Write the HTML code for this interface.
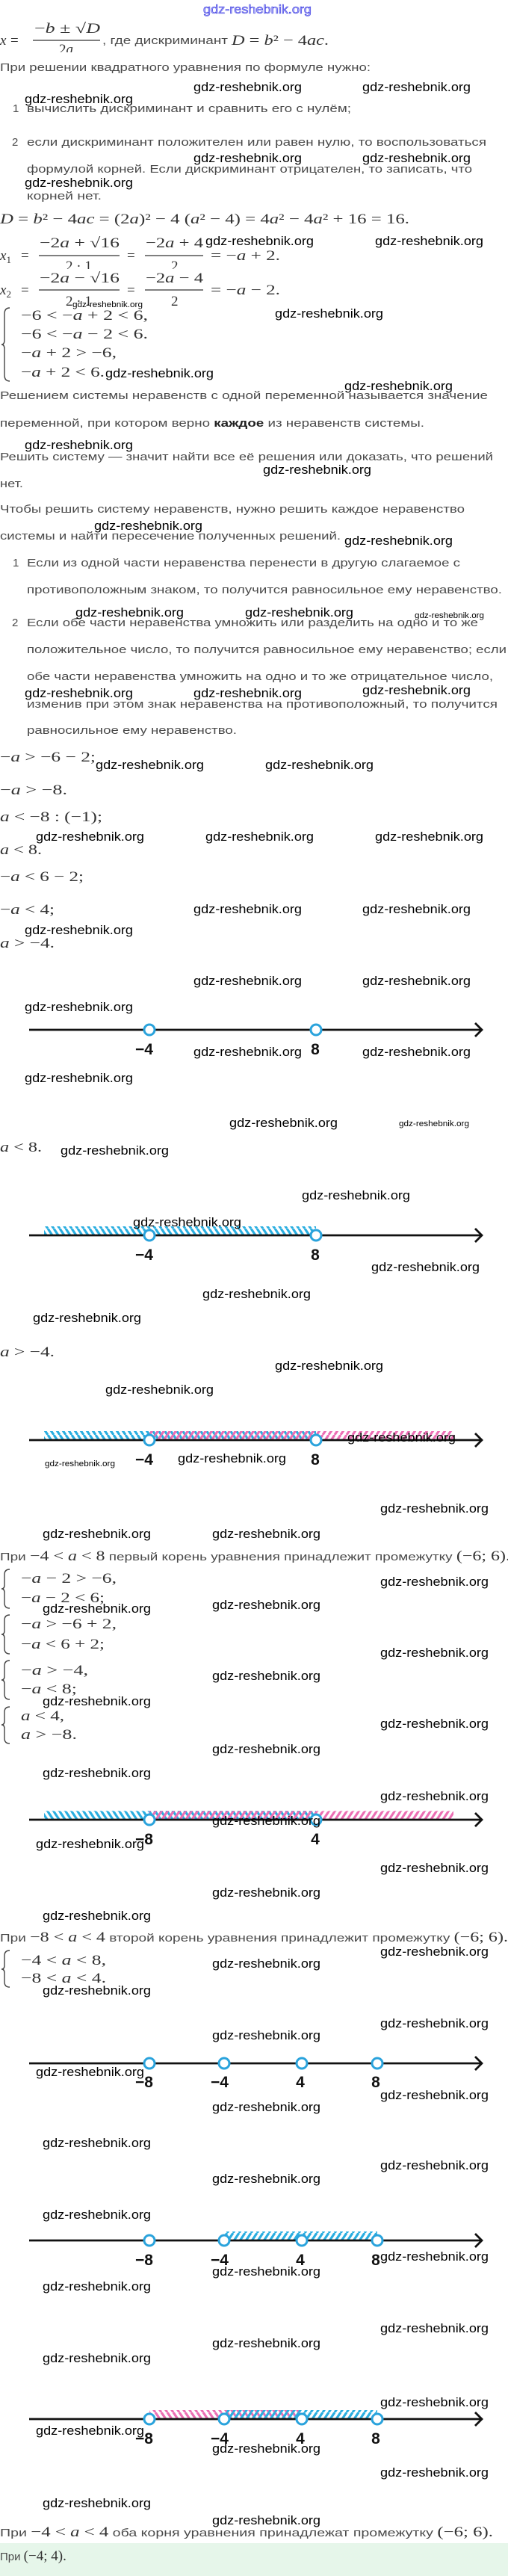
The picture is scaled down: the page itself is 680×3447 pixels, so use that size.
<!DOCTYPE html>
<html><head><meta charset="utf-8">
<style>
html,body{margin:0;padding:0;background:#fff;}
svg{display:block;}
.t{font-family:"Liberation Sans",sans-serif;font-size:15px;fill:#4a4a4a;}
.m{font-family:"Liberation Serif",serif;font-size:19px;fill:#333;}
.mi{font-family:"Liberation Serif",serif;font-size:19px;fill:#333;font-style:italic;}
.w{font-family:"Liberation Sans",sans-serif;font-size:17px;fill:#000;}
.ws{font-family:"Liberation Sans",sans-serif;font-size:11px;fill:#000;}
.n{font-family:"Liberation Sans",sans-serif;font-size:21px;font-weight:bold;fill:#111;}
.ax{stroke:#111;stroke-width:2.8;fill:none;}
.c{stroke:#2aa3dc;stroke-width:3;fill:#fff;}
.br{stroke:#444;stroke-width:1.4;fill:none;}
.fb{stroke:#333;stroke-width:1.2;}
</style></head><body>
<svg width="680" height="3447" viewBox="0 0 680 3447" xmlns="http://www.w3.org/2000/svg">
<defs>
<pattern id="pb" patternUnits="userSpaceOnUse" width="8" height="12"><line x1="0" y1="0" x2="8" y2="12" stroke="#2aaee0" stroke-width="3.2"/><line x1="-8" y1="0" x2="0" y2="12" stroke="#2aaee0" stroke-width="3.2"/><line x1="8" y1="0" x2="16" y2="12" stroke="#2aaee0" stroke-width="3.2"/></pattern>
<pattern id="pf" patternUnits="userSpaceOnUse" width="8" height="12"><line x1="8" y1="0" x2="0" y2="12" stroke="#2aaee0" stroke-width="3.2"/><line x1="16" y1="0" x2="8" y2="12" stroke="#2aaee0" stroke-width="3.2"/><line x1="0" y1="0" x2="-8" y2="12" stroke="#2aaee0" stroke-width="3.2"/></pattern>
<pattern id="kf" patternUnits="userSpaceOnUse" width="8" height="12"><line x1="8" y1="0" x2="0" y2="12" stroke="#ec6fb4" stroke-width="3.2"/><line x1="16" y1="0" x2="8" y2="12" stroke="#ec6fb4" stroke-width="3.2"/><line x1="0" y1="0" x2="-8" y2="12" stroke="#ec6fb4" stroke-width="3.2"/></pattern>
<pattern id="kb" patternUnits="userSpaceOnUse" width="8" height="12"><line x1="0" y1="0" x2="8" y2="12" stroke="#ec6fb4" stroke-width="3.2"/><line x1="-8" y1="0" x2="0" y2="12" stroke="#ec6fb4" stroke-width="3.2"/><line x1="8" y1="0" x2="16" y2="12" stroke="#ec6fb4" stroke-width="3.2"/></pattern>
</defs>

<text x="272" y="18" font-family="Liberation Sans,sans-serif" font-size="17" fill="#b8b8ff" stroke="#3333dd" stroke-width="0.6" textLength="145" lengthAdjust="spacingAndGlyphs">gdz-reshebnik.org</text>

<text class="mi" x="0" y="60">x</text><text class="m" x="14" y="60">=</text>
<text class="m" x="46" y="44" textLength="88" lengthAdjust="spacingAndGlyphs">−<tspan font-style="italic">b</tspan> ± √<tspan font-style="italic">D</tspan></text>
<line class="fb" x1="44" y1="54" x2="134" y2="54"/>
<text class="m" x="79" y="72">2<tspan font-style="italic">a</tspan></text>
<rect x="70" y="70" width="70" height="8" fill="#fff"/>
<text class="t" x="137" y="59" textLength="168" lengthAdjust="spacingAndGlyphs">, где дискриминант</text>
<text class="m" x="310" y="60" textLength="130" lengthAdjust="spacingAndGlyphs"><tspan font-style="italic">D</tspan> = <tspan font-style="italic">b</tspan>² − 4<tspan font-style="italic">ac</tspan>.</text>

<text class="t" x="0" y="95" textLength="496" lengthAdjust="spacingAndGlyphs">При решении квадратного уравнения по формуле нужно:</text>
<text class="t" x="17" y="150" fill="#999">1</text>
<text class="t" x="36" y="150" textLength="434" lengthAdjust="spacingAndGlyphs">вычислить дискриминант и сравнить его с нулём;</text>
<text class="t" x="16" y="195" fill="#999">2</text>
<text class="t" x="36" y="195" textLength="615" lengthAdjust="spacingAndGlyphs">если дискриминант положителен или равен нулю, то воспользоваться</text>
<text class="t" x="36" y="231" textLength="596" lengthAdjust="spacingAndGlyphs">формулой корней. Если дискриминант отрицателен, то записать, что</text>
<text class="t" x="36" y="267" textLength="100" lengthAdjust="spacingAndGlyphs">корней нет.</text>

<text class="m" x="0" y="299" textLength="548" lengthAdjust="spacingAndGlyphs"><tspan font-style="italic">D</tspan> = <tspan font-style="italic">b</tspan>² − 4<tspan font-style="italic">ac</tspan> = (2<tspan font-style="italic">a</tspan>)² − 4 (<tspan font-style="italic">a</tspan>² − 4) = 4<tspan font-style="italic">a</tspan>² − 4<tspan font-style="italic">a</tspan>² + 16 = 16.</text>

<text class="mi" x="0" y="348">x<tspan font-size="13" font-style="normal" dy="4">1</tspan></text><text class="m" x="28" y="348">=</text>
<text class="m" x="53" y="331" textLength="107" lengthAdjust="spacingAndGlyphs">−2<tspan font-style="italic">a</tspan> + √16</text>
<line class="fb" x1="52" y1="342" x2="160" y2="342"/>
<text class="m" x="88" y="362">2 · 1</text>
<text class="m" x="170" y="348">=</text>
<text class="m" x="195" y="331" textLength="77" lengthAdjust="spacingAndGlyphs">−2<tspan font-style="italic">a</tspan> + 4</text>
<line class="fb" x1="194" y1="342" x2="272" y2="342"/>
<text class="m" x="229" y="362">2</text>
<text class="m" x="282" y="348" textLength="93" lengthAdjust="spacingAndGlyphs">= −<tspan font-style="italic">a</tspan> + 2.</text>
<rect x="40" y="360" width="250" height="6" fill="#fff"/>
<text class="mi" x="0" y="394">x<tspan font-size="13" font-style="normal" dy="4">2</tspan></text><text class="m" x="28" y="394">=</text>
<text class="m" x="53" y="378" textLength="107" lengthAdjust="spacingAndGlyphs">−2<tspan font-style="italic">a</tspan> − √16</text>
<line class="fb" x1="52" y1="388" x2="160" y2="388"/>
<text class="m" x="88" y="409">2 · 1</text>
<text class="m" x="170" y="394">=</text>
<text class="m" x="195" y="378" textLength="77" lengthAdjust="spacingAndGlyphs">−2<tspan font-style="italic">a</tspan> − 4</text>
<line class="fb" x1="194" y1="388" x2="272" y2="388"/>
<text class="m" x="229" y="409">2</text>
<text class="m" x="282" y="394" textLength="93" lengthAdjust="spacingAndGlyphs">= −<tspan font-style="italic">a</tspan> − 2.</text>

<path class="br" d="M13,412 Q6,412 6,420 L6,455 Q6,461 2,461 Q6,461 6,467 L6,502 Q6,510 13,510"/>
<text class="m" x="28" y="428" textLength="170" lengthAdjust="spacingAndGlyphs">−6 &lt; −<tspan font-style="italic">a</tspan> + 2 &lt; 6,</text>
<text class="m" x="28" y="453" textLength="170" lengthAdjust="spacingAndGlyphs">−6 &lt; −<tspan font-style="italic">a</tspan> − 2 &lt; 6.</text>
<text class="m" x="28" y="478" textLength="128" lengthAdjust="spacingAndGlyphs">−<tspan font-style="italic">a</tspan> + 2 &gt; −6,</text>
<text class="m" x="28" y="504" textLength="112" lengthAdjust="spacingAndGlyphs">−<tspan font-style="italic">a</tspan> + 2 &lt; 6.</text>

<text class="t" x="0" y="534" textLength="653" lengthAdjust="spacingAndGlyphs">Решением системы неравенств с одной переменной называется значение</text>
<text class="t" x="0" y="571" textLength="568" lengthAdjust="spacingAndGlyphs">переменной, при котором верно <tspan font-weight="bold" fill="#222">каждое</tspan> из неравенств системы.</text>
<text class="t" x="0" y="616" textLength="660" lengthAdjust="spacingAndGlyphs">Решить систему — значит найти все её решения или доказать, что решений</text>
<text class="t" x="0" y="652" textLength="31" lengthAdjust="spacingAndGlyphs">нет.</text>
<text class="t" x="0" y="686" textLength="622" lengthAdjust="spacingAndGlyphs">Чтобы решить систему неравенств, нужно решить каждое неравенство</text>
<text class="t" x="0" y="722" textLength="456" lengthAdjust="spacingAndGlyphs">системы и найти пересечение полученных решений.</text>
<text class="t" x="17" y="758" fill="#999">1</text>
<text class="t" x="36" y="758" textLength="580" lengthAdjust="spacingAndGlyphs">Если из одной части неравенства перенести в другую слагаемое с</text>
<text class="t" x="36" y="794" textLength="636" lengthAdjust="spacingAndGlyphs">противоположным знаком, то получится равносильное ему неравенство.</text>
<text class="t" x="16" y="838" fill="#999">2</text>
<text class="t" x="36" y="838" textLength="604" lengthAdjust="spacingAndGlyphs">Если обе части неравенства умножить или разделить на одно и то же</text>
<text class="t" x="36" y="874" textLength="642" lengthAdjust="spacingAndGlyphs">положительное число, то получится равносильное ему неравенство; если</text>
<text class="t" x="36" y="910" textLength="624" lengthAdjust="spacingAndGlyphs">обе части неравенства умножить на одно и то же отрицательное число,</text>
<text class="t" x="36" y="947" textLength="630" lengthAdjust="spacingAndGlyphs">изменив при этом знак неравенства на противоположный, то получится</text>
<text class="t" x="36" y="982" textLength="281" lengthAdjust="spacingAndGlyphs">равносильное ему неравенство.</text>

<text class="m" x="0" y="1019" textLength="128" lengthAdjust="spacingAndGlyphs">−<tspan font-style="italic">a</tspan> &gt; −6 − 2;</text>
<text class="m" x="0" y="1063" textLength="90" lengthAdjust="spacingAndGlyphs">−<tspan font-style="italic">a</tspan> &gt; −8.</text>
<text class="m" x="0" y="1099" textLength="137" lengthAdjust="spacingAndGlyphs"><tspan font-style="italic">a</tspan> &lt; −8 : (−1);</text>
<text class="m" x="0" y="1143" textLength="56" lengthAdjust="spacingAndGlyphs"><tspan font-style="italic">a</tspan> &lt; 8.</text>
<text class="m" x="0" y="1179" textLength="112" lengthAdjust="spacingAndGlyphs">−<tspan font-style="italic">a</tspan> &lt; 6 − 2;</text>
<text class="m" x="0" y="1223" textLength="73" lengthAdjust="spacingAndGlyphs">−<tspan font-style="italic">a</tspan> &lt; 4;</text>
<text class="m" x="0" y="1268" textLength="73" lengthAdjust="spacingAndGlyphs"><tspan font-style="italic">a</tspan> &gt; −4.</text>

<line class="ax" x1="39" y1="1378" x2="645" y2="1378"/><polyline class="ax" points="636,1369 645,1378 636,1387"/>
<circle class="c" cx="200" cy="1378" r="7"/><circle class="c" cx="423" cy="1378" r="7"/>
<text class="n" x="193" y="1411" text-anchor="middle">−4</text><text class="n" x="422" y="1411" text-anchor="middle">8</text>

<text class="m" x="0" y="1541" textLength="56" lengthAdjust="spacingAndGlyphs"><tspan font-style="italic">a</tspan> &lt; 8.</text>
<rect x="59" y="1641" width="364" height="12" fill="url(#pb)"/>
<line class="ax" x1="39" y1="1653" x2="645" y2="1653"/><polyline class="ax" points="636,1644 645,1653 636,1662"/>
<circle class="c" cx="200" cy="1653" r="7"/><circle class="c" cx="423" cy="1653" r="7"/>
<text class="n" x="193" y="1686" text-anchor="middle">−4</text><text class="n" x="422" y="1686" text-anchor="middle">8</text>

<text class="m" x="0" y="1815" textLength="73" lengthAdjust="spacingAndGlyphs"><tspan font-style="italic">a</tspan> &gt; −4.</text>
<rect x="59" y="1915" width="364" height="12" fill="url(#pb)"/>
<rect x="200" y="1915" width="407" height="12" fill="url(#kf)"/>
<line class="ax" x1="39" y1="1927" x2="645" y2="1927"/><polyline class="ax" points="636,1918 645,1927 636,1936"/>
<circle class="c" cx="200" cy="1927" r="7"/><circle class="c" cx="423" cy="1927" r="7"/>
<text class="n" x="193" y="1960" text-anchor="middle">−4</text><text class="n" x="422" y="1960" text-anchor="middle">8</text>

<text class="t" x="0" y="2088" textLength="683" lengthAdjust="spacingAndGlyphs">При <tspan class="m">−4 &lt; <tspan font-style="italic">a</tspan> &lt; 8</tspan> первый корень уравнения принадлежит промежутку <tspan class="m">(−6; 6).</tspan></text>
<path class="br" d="M13,2100 Q6,2100 6,2107 L6,2121 Q6,2126 2,2126 Q6,2126 6,2131 L6,2145 Q6,2152 13,2152"/>
<text class="m" x="28" y="2118" textLength="128" lengthAdjust="spacingAndGlyphs">−<tspan font-style="italic">a</tspan> − 2 &gt; −6,</text>
<text class="m" x="28" y="2144" textLength="112" lengthAdjust="spacingAndGlyphs">−<tspan font-style="italic">a</tspan> − 2 &lt; 6;</text>
<path class="br" d="M13,2161 Q6,2161 6,2168 L6,2182 Q6,2187 2,2187 Q6,2187 6,2192 L6,2206 Q6,2213 13,2213"/>
<text class="m" x="28" y="2179" textLength="128" lengthAdjust="spacingAndGlyphs">−<tspan font-style="italic">a</tspan> &gt; −6 + 2,</text>
<text class="m" x="28" y="2206" textLength="112" lengthAdjust="spacingAndGlyphs">−<tspan font-style="italic">a</tspan> &lt; 6 + 2;</text>
<path class="br" d="M13,2222 Q6,2222 6,2229 L6,2243 Q6,2248 2,2248 Q6,2248 6,2253 L6,2267 Q6,2274 13,2274"/>
<text class="m" x="28" y="2241" textLength="90" lengthAdjust="spacingAndGlyphs">−<tspan font-style="italic">a</tspan> &gt; −4,</text>
<text class="m" x="28" y="2266" textLength="75" lengthAdjust="spacingAndGlyphs">−<tspan font-style="italic">a</tspan> &lt; 8;</text>
<path class="br" d="M13,2284 Q6,2284 6,2291 L6,2303 Q6,2308 2,2308 Q6,2308 6,2313 L6,2326 Q6,2333 13,2333"/>
<text class="m" x="28" y="2302" textLength="58" lengthAdjust="spacingAndGlyphs"><tspan font-style="italic">a</tspan> &lt; 4,</text>
<text class="m" x="28" y="2327" textLength="75" lengthAdjust="spacingAndGlyphs"><tspan font-style="italic">a</tspan> &gt; −8.</text>

<rect x="59" y="2423" width="364" height="12" fill="url(#pb)"/>
<rect x="200" y="2423" width="407" height="12" fill="url(#kf)"/>
<line class="ax" x1="39" y1="2435" x2="645" y2="2435"/><polyline class="ax" points="636,2426 645,2435 636,2444"/>
<circle class="c" cx="200" cy="2435" r="7"/><circle class="c" cx="423" cy="2435" r="7"/>
<text class="n" x="193" y="2468" text-anchor="middle">−8</text><text class="n" x="422" y="2468" text-anchor="middle">4</text>

<text class="t" x="0" y="2598" textLength="680" lengthAdjust="spacingAndGlyphs">При <tspan class="m">−8 &lt; <tspan font-style="italic">a</tspan> &lt; 4</tspan> второй корень уравнения принадлежит промежутку <tspan class="m">(−6; 6).</tspan></text>
<path class="br" d="M13,2610 Q6,2610 6,2617 L6,2630 Q6,2635 2,2635 Q6,2635 6,2640 L6,2652 Q6,2659 13,2659"/>
<text class="m" x="28" y="2629" textLength="114" lengthAdjust="spacingAndGlyphs">−4 &lt; <tspan font-style="italic">a</tspan> &lt; 8,</text>
<text class="m" x="28" y="2653" textLength="114" lengthAdjust="spacingAndGlyphs">−8 &lt; <tspan font-style="italic">a</tspan> &lt; 4.</text>

<line class="ax" x1="39" y1="2761" x2="645" y2="2761"/><polyline class="ax" points="636,2752 645,2761 636,2770"/>
<circle class="c" cx="200" cy="2761" r="7"/><circle class="c" cx="300" cy="2761" r="7"/><circle class="c" cx="404" cy="2761" r="7"/><circle class="c" cx="505" cy="2761" r="7"/>
<text class="n" x="193" y="2793" text-anchor="middle">−8</text><text class="n" x="294" y="2793" text-anchor="middle">−4</text><text class="n" x="402" y="2793" text-anchor="middle">4</text><text class="n" x="503" y="2793" text-anchor="middle">8</text>

<rect x="300" y="2986" width="205" height="12" fill="url(#pf)"/>
<line class="ax" x1="39" y1="2998" x2="645" y2="2998"/><polyline class="ax" points="636,2989 645,2998 636,3007"/>
<circle class="c" cx="200" cy="2998" r="7"/><circle class="c" cx="300" cy="2998" r="7"/><circle class="c" cx="404" cy="2998" r="7"/><circle class="c" cx="505" cy="2998" r="7"/>
<text class="n" x="193" y="3031" text-anchor="middle">−8</text><text class="n" x="294" y="3031" text-anchor="middle">−4</text><text class="n" x="402" y="3031" text-anchor="middle">4</text><text class="n" x="503" y="3031" text-anchor="middle">8</text>

<rect x="200" y="3225" width="204" height="12" fill="url(#kb)"/>
<rect x="300" y="3225" width="205" height="12" fill="url(#pf)"/>
<line class="ax" x1="39" y1="3237" x2="645" y2="3237"/><polyline class="ax" points="636,3228 645,3237 636,3246"/>
<circle class="c" cx="200" cy="3237" r="7"/><circle class="c" cx="300" cy="3237" r="7"/><circle class="c" cx="404" cy="3237" r="7"/><circle class="c" cx="505" cy="3237" r="7"/>
<text class="n" x="193" y="3270" text-anchor="middle">−8</text><text class="n" x="294" y="3270" text-anchor="middle">−4</text><text class="n" x="402" y="3270" text-anchor="middle">4</text><text class="n" x="503" y="3270" text-anchor="middle">8</text>

<text class="t" x="0" y="3394" textLength="660" lengthAdjust="spacingAndGlyphs">При <tspan class="m">−4 &lt; <tspan font-style="italic">a</tspan> &lt; 4</tspan> оба корня уравнения принадлежат промежутку <tspan class="m">(−6; 6).</tspan></text>
<rect x="0" y="3403" width="680" height="44" fill="#e6f6ea"/>
<text class="t" x="0" y="3426">При <tspan class="m">(−4; 4).</tspan></text>

<g class="w">
<text x="259" y="122" textLength="145" lengthAdjust="spacingAndGlyphs">gdz-reshebnik.org</text>
<text x="485" y="122" textLength="145" lengthAdjust="spacingAndGlyphs">gdz-reshebnik.org</text>
<text x="33" y="138" textLength="145" lengthAdjust="spacingAndGlyphs">gdz-reshebnik.org</text>
<text x="259" y="217" textLength="145" lengthAdjust="spacingAndGlyphs">gdz-reshebnik.org</text>
<text x="485" y="217" textLength="145" lengthAdjust="spacingAndGlyphs">gdz-reshebnik.org</text>
<text x="33" y="250" textLength="145" lengthAdjust="spacingAndGlyphs">gdz-reshebnik.org</text>
<text x="275" y="328" textLength="145" lengthAdjust="spacingAndGlyphs">gdz-reshebnik.org</text>
<text x="502" y="328" textLength="145" lengthAdjust="spacingAndGlyphs">gdz-reshebnik.org</text>
<text x="368" y="425" textLength="145" lengthAdjust="spacingAndGlyphs">gdz-reshebnik.org</text>
<text x="141" y="505" textLength="145" lengthAdjust="spacingAndGlyphs">gdz-reshebnik.org</text>
<text x="461" y="522" textLength="145" lengthAdjust="spacingAndGlyphs">gdz-reshebnik.org</text>
<text x="33" y="601" textLength="145" lengthAdjust="spacingAndGlyphs">gdz-reshebnik.org</text>
<text x="352" y="634" textLength="145" lengthAdjust="spacingAndGlyphs">gdz-reshebnik.org</text>
<text x="126" y="709" textLength="145" lengthAdjust="spacingAndGlyphs">gdz-reshebnik.org</text>
<text x="461" y="729" textLength="145" lengthAdjust="spacingAndGlyphs">gdz-reshebnik.org</text>
<text x="101" y="825" textLength="145" lengthAdjust="spacingAndGlyphs">gdz-reshebnik.org</text>
<text x="328" y="825" textLength="145" lengthAdjust="spacingAndGlyphs">gdz-reshebnik.org</text>
<text x="33" y="933" textLength="145" lengthAdjust="spacingAndGlyphs">gdz-reshebnik.org</text>
<text x="259" y="933" textLength="145" lengthAdjust="spacingAndGlyphs">gdz-reshebnik.org</text>
<text x="485" y="929" textLength="145" lengthAdjust="spacingAndGlyphs">gdz-reshebnik.org</text>
<text x="128" y="1029" textLength="145" lengthAdjust="spacingAndGlyphs">gdz-reshebnik.org</text>
<text x="355" y="1029" textLength="145" lengthAdjust="spacingAndGlyphs">gdz-reshebnik.org</text>
<text x="48" y="1125" textLength="145" lengthAdjust="spacingAndGlyphs">gdz-reshebnik.org</text>
<text x="275" y="1125" textLength="145" lengthAdjust="spacingAndGlyphs">gdz-reshebnik.org</text>
<text x="502" y="1125" textLength="145" lengthAdjust="spacingAndGlyphs">gdz-reshebnik.org</text>
<text x="259" y="1222" textLength="145" lengthAdjust="spacingAndGlyphs">gdz-reshebnik.org</text>
<text x="485" y="1222" textLength="145" lengthAdjust="spacingAndGlyphs">gdz-reshebnik.org</text>
<text x="33" y="1250" textLength="145" lengthAdjust="spacingAndGlyphs">gdz-reshebnik.org</text>
<text x="259" y="1318" textLength="145" lengthAdjust="spacingAndGlyphs">gdz-reshebnik.org</text>
<text x="485" y="1318" textLength="145" lengthAdjust="spacingAndGlyphs">gdz-reshebnik.org</text>
<text x="33" y="1353" textLength="145" lengthAdjust="spacingAndGlyphs">gdz-reshebnik.org</text>
<text x="259" y="1413" textLength="145" lengthAdjust="spacingAndGlyphs">gdz-reshebnik.org</text>
<text x="485" y="1413" textLength="145" lengthAdjust="spacingAndGlyphs">gdz-reshebnik.org</text>
<text x="33" y="1448" textLength="145" lengthAdjust="spacingAndGlyphs">gdz-reshebnik.org</text>
<text x="307" y="1508" textLength="145" lengthAdjust="spacingAndGlyphs">gdz-reshebnik.org</text>
<text x="81" y="1545" textLength="145" lengthAdjust="spacingAndGlyphs">gdz-reshebnik.org</text>
<text x="404" y="1605" textLength="145" lengthAdjust="spacingAndGlyphs">gdz-reshebnik.org</text>
<text x="178" y="1641" textLength="145" lengthAdjust="spacingAndGlyphs">gdz-reshebnik.org</text>
<text x="497" y="1701" textLength="145" lengthAdjust="spacingAndGlyphs">gdz-reshebnik.org</text>
<text x="271" y="1737" textLength="145" lengthAdjust="spacingAndGlyphs">gdz-reshebnik.org</text>
<text x="44" y="1769" textLength="145" lengthAdjust="spacingAndGlyphs">gdz-reshebnik.org</text>
<text x="368" y="1833" textLength="145" lengthAdjust="spacingAndGlyphs">gdz-reshebnik.org</text>
<text x="141" y="1865" textLength="145" lengthAdjust="spacingAndGlyphs">gdz-reshebnik.org</text>
<text x="465" y="1929" textLength="145" lengthAdjust="spacingAndGlyphs">gdz-reshebnik.org</text>
<text x="238" y="1957" textLength="145" lengthAdjust="spacingAndGlyphs">gdz-reshebnik.org</text>
<text x="509" y="2024" textLength="145" lengthAdjust="spacingAndGlyphs">gdz-reshebnik.org</text>
<text x="57" y="2058" textLength="145" lengthAdjust="spacingAndGlyphs">gdz-reshebnik.org</text>
<text x="284" y="2058" textLength="145" lengthAdjust="spacingAndGlyphs">gdz-reshebnik.org</text>
<text x="509" y="2122" textLength="145" lengthAdjust="spacingAndGlyphs">gdz-reshebnik.org</text>
<text x="57" y="2158" textLength="145" lengthAdjust="spacingAndGlyphs">gdz-reshebnik.org</text>
<text x="284" y="2153" textLength="145" lengthAdjust="spacingAndGlyphs">gdz-reshebnik.org</text>
<text x="509" y="2217" textLength="145" lengthAdjust="spacingAndGlyphs">gdz-reshebnik.org</text>
<text x="284" y="2248" textLength="145" lengthAdjust="spacingAndGlyphs">gdz-reshebnik.org</text>
<text x="57" y="2282" textLength="145" lengthAdjust="spacingAndGlyphs">gdz-reshebnik.org</text>
<text x="509" y="2312" textLength="145" lengthAdjust="spacingAndGlyphs">gdz-reshebnik.org</text>
<text x="284" y="2346" textLength="145" lengthAdjust="spacingAndGlyphs">gdz-reshebnik.org</text>
<text x="57" y="2378" textLength="145" lengthAdjust="spacingAndGlyphs">gdz-reshebnik.org</text>
<text x="509" y="2409" textLength="145" lengthAdjust="spacingAndGlyphs">gdz-reshebnik.org</text>
<text x="284" y="2442" textLength="145" lengthAdjust="spacingAndGlyphs">gdz-reshebnik.org</text>
<text x="48" y="2473" textLength="145" lengthAdjust="spacingAndGlyphs">gdz-reshebnik.org</text>
<text x="509" y="2505" textLength="145" lengthAdjust="spacingAndGlyphs">gdz-reshebnik.org</text>
<text x="284" y="2538" textLength="145" lengthAdjust="spacingAndGlyphs">gdz-reshebnik.org</text>
<text x="57" y="2569" textLength="145" lengthAdjust="spacingAndGlyphs">gdz-reshebnik.org</text>
<text x="509" y="2617" textLength="145" lengthAdjust="spacingAndGlyphs">gdz-reshebnik.org</text>
<text x="284" y="2633" textLength="145" lengthAdjust="spacingAndGlyphs">gdz-reshebnik.org</text>
<text x="57" y="2669" textLength="145" lengthAdjust="spacingAndGlyphs">gdz-reshebnik.org</text>
<text x="509" y="2713" textLength="145" lengthAdjust="spacingAndGlyphs">gdz-reshebnik.org</text>
<text x="284" y="2729" textLength="145" lengthAdjust="spacingAndGlyphs">gdz-reshebnik.org</text>
<text x="48" y="2778" textLength="145" lengthAdjust="spacingAndGlyphs">gdz-reshebnik.org</text>
<text x="509" y="2809" textLength="145" lengthAdjust="spacingAndGlyphs">gdz-reshebnik.org</text>
<text x="284" y="2825" textLength="145" lengthAdjust="spacingAndGlyphs">gdz-reshebnik.org</text>
<text x="57" y="2873" textLength="145" lengthAdjust="spacingAndGlyphs">gdz-reshebnik.org</text>
<text x="509" y="2903" textLength="145" lengthAdjust="spacingAndGlyphs">gdz-reshebnik.org</text>
<text x="284" y="2921" textLength="145" lengthAdjust="spacingAndGlyphs">gdz-reshebnik.org</text>
<text x="57" y="2969" textLength="145" lengthAdjust="spacingAndGlyphs">gdz-reshebnik.org</text>
<text x="509" y="3025" textLength="145" lengthAdjust="spacingAndGlyphs">gdz-reshebnik.org</text>
<text x="284" y="3045" textLength="145" lengthAdjust="spacingAndGlyphs">gdz-reshebnik.org</text>
<text x="57" y="3065" textLength="145" lengthAdjust="spacingAndGlyphs">gdz-reshebnik.org</text>
<text x="509" y="3121" textLength="145" lengthAdjust="spacingAndGlyphs">gdz-reshebnik.org</text>
<text x="284" y="3141" textLength="145" lengthAdjust="spacingAndGlyphs">gdz-reshebnik.org</text>
<text x="57" y="3161" textLength="145" lengthAdjust="spacingAndGlyphs">gdz-reshebnik.org</text>
<text x="509" y="3220" textLength="145" lengthAdjust="spacingAndGlyphs">gdz-reshebnik.org</text>
<text x="48" y="3258" textLength="145" lengthAdjust="spacingAndGlyphs">gdz-reshebnik.org</text>
<text x="284" y="3282" textLength="145" lengthAdjust="spacingAndGlyphs">gdz-reshebnik.org</text>
<text x="509" y="3314" textLength="145" lengthAdjust="spacingAndGlyphs">gdz-reshebnik.org</text>
<text x="57" y="3355" textLength="145" lengthAdjust="spacingAndGlyphs">gdz-reshebnik.org</text>
<text x="284" y="3378" textLength="145" lengthAdjust="spacingAndGlyphs">gdz-reshebnik.org</text>
</g>
<g class="ws">
<text x="97" y="411" textLength="94" lengthAdjust="spacingAndGlyphs">gdz-reshebnik.org</text>
<text x="555" y="827" textLength="93" lengthAdjust="spacingAndGlyphs">gdz-reshebnik.org</text>
<text x="534" y="1507" textLength="94" lengthAdjust="spacingAndGlyphs">gdz-reshebnik.org</text>
<text x="60" y="1962" textLength="94" lengthAdjust="spacingAndGlyphs">gdz-reshebnik.org</text>
</g>
</svg>
</body></html>
